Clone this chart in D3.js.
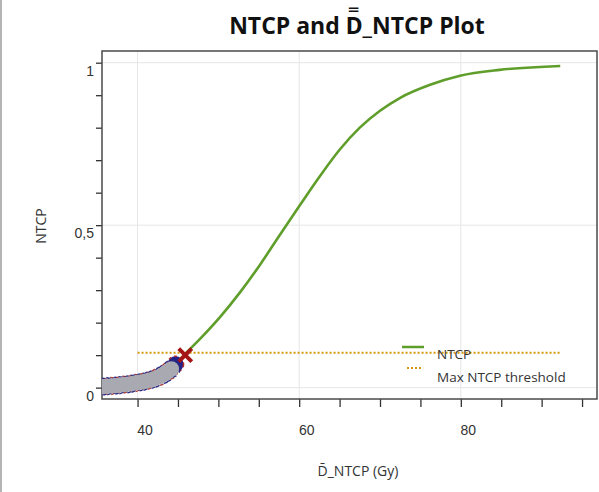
<!DOCTYPE html>
<html>
<head>
<meta charset="utf-8">
<script src="https://cdn.jsdelivr.net/npm/d3@7"></script>
<style>
  body { margin: 0; background: #fff; }
  svg { display: block; font-family: "Open Sans", "Noto Sans", sans-serif; }
</style>
</head>
<body>
<div id="chart"></div>
<script>
// NTCP curve
var ntcpDose  = [36, 38, 40, 42, 44, 45.6, 47.7, 50.2, 52.7, 55.2, 57.6, 60.1, 62.6, 65, 67.5, 70, 72.5, 76.2, 79.9, 84.8, 92.3];
var ntcpValue = [0.004, 0.008, 0.015, 0.027, 0.05, 0.096, 0.149, 0.217, 0.294, 0.38, 0.47, 0.562, 0.652, 0.732, 0.8, 0.852, 0.892, 0.932, 0.96, 0.978, 0.99];

// grey sample points along the low end
var sampleDose = [35.6, 36.1, 36.6, 37.1, 37.6, 38.1, 38.6, 39.1, 39.6, 40.1, 40.6, 41.1, 41.6, 42.1, 42.6, 43.1, 43.5, 43.9, 44.2];
var sampleNtcp = [0.003, 0.004, 0.005, 0.006, 0.007, 0.009, 0.01, 0.012, 0.014, 0.016, 0.018, 0.021, 0.024, 0.028, 0.033, 0.039, 0.045, 0.052, 0.058];

// highlighted points
var bluePoint = {dose: 44.7, ntcp: 0.072};
var redPoint = {dose: 45.9, ntcp: 0.1};

// threshold
var threshold = 0.107;
var thresholdRange = [40, 92.3];

var xTicks = [40, 60, 80];
var yTicks = [0, 0.5, 1];
var legendLabels = ["NTCP", "Max NTCP threshold"];

var W = 599, H = 492;
var margin = {top: 51, right: 2, bottom: 93, left: 102},
    width = W - margin.left - margin.right,
    height = H - margin.top - margin.bottom;

var svg = d3.select("#chart")
  .append("svg")
  .attr("width", W)
  .attr("height", H);

// grey edge of the window on the left
svg.append("rect")
  .attr("x", 0).attr("y", 0)
  .attr("width", 2).attr("height", H)
  .attr("fill", "#b4b4b4");

svg.append("clipPath").attr("id", "plot-clip")
  .append("rect")
  .attr("x", margin.left).attr("y", margin.top)
  .attr("width", width).attr("height", height);

var g = svg.append("g")
  .attr("transform", "translate(" + margin.left + "," + margin.top + ")");

var x = d3.scaleLinear().domain([35.6, 96.85]).range([0, width]);
var y = d3.scaleLinear().domain([-0.035, 1.036]).range([height, 0]);

// grid
g.selectAll(".vgrid").data(xTicks).enter().append("line")
  .attr("x1", d => x(d)).attr("x2", d => x(d))
  .attr("y1", 0).attr("y2", height)
  .attr("stroke", "#e6e6e6").attr("stroke-width", 1);
g.selectAll(".hgrid").data(yTicks).enter().append("line")
  .attr("x1", 0).attr("x2", width)
  .attr("y1", d => y(d)).attr("y2", d => y(d))
  .attr("stroke", "#e6e6e6").attr("stroke-width", 1);

// x axis
var xAxis = g.append("g")
  .attr("transform", "translate(0," + height + ")")
  .call(d3.axisBottom(x)
    .tickValues(d3.range(40, 96, 5))
    .tickSize(8)
    .tickFormat(d => xTicks.indexOf(d) >= 0 ? d : ""));
xAxis.select(".domain").remove();
xAxis.selectAll(".tick line").attr("stroke", "#333").attr("stroke-width", 1.3);
xAxis.selectAll(".tick text")
  .attr("font-size", 14).attr("fill", "#333")
  .attr("dx", 7).attr("y", 26);

// y axis
var yAxis = g.append("g")
  .call(d3.axisLeft(y)
    .tickValues(d3.range(0, 11).map(i => i / 10))
    .tickSize(6)
    .tickFormat(d => {
      var k = Math.round(d * 10);
      if (k === 0) return "0";
      if (k === 5) return "0,5";
      if (k === 10) return "1";
      return "";
    }));
yAxis.select(".domain").remove();
yAxis.selectAll(".tick line").attr("stroke", "#333").attr("stroke-width", 1.3);
yAxis.selectAll(".tick text")
  .attr("font-size", 14).attr("fill", "#333")
  .attr("x", -8).attr("dy", "0.9em");

var plot = svg.append("g").attr("clip-path", "url(#plot-clip)")
  .append("g")
  .attr("transform", "translate(" + margin.left + "," + margin.top + ")");

// threshold line
plot.append("line")
  .attr("x1", x(thresholdRange[0])).attr("x2", x(thresholdRange[1]))
  .attr("y1", y(threshold)).attr("y2", y(threshold))
  .attr("stroke", "#d4980a").attr("stroke-width", 2)
  .attr("stroke-dasharray", "2,2");

// NTCP curve
var curveData = ntcpDose.map((d, i) => ({dose: d, ntcp: ntcpValue[i]}));
plot.append("path")
  .datum(curveData)
  .attr("fill", "none")
  .attr("stroke", "#5f9e2a")
  .attr("stroke-width", 2.6)
  .attr("d", d3.line()
    .curve(d3.curveMonotoneX)
    .x(d => x(d.dose))
    .y(d => y(d.ntcp)));

// blue point (partly hidden by the grey band)
plot.append("circle")
  .attr("cx", x(bluePoint.dose)).attr("cy", y(bluePoint.ntcp))
  .attr("r", 8)
  .attr("fill", "#22228a")
  .attr("stroke", "#b02a2a").attr("stroke-width", 1.5)
  .attr("stroke-dasharray", "3,3");

// grey samples
var samples = sampleDose.map((d, i) => ({dose: d, ntcp: sampleNtcp[i]}));
plot.selectAll(".edge").data(samples).enter().append("circle")
  .attr("cx", d => x(d.dose)).attr("cy", d => y(d.ntcp))
  .attr("r", 8.5)
  .attr("fill", "none")
  .attr("stroke", (d, i) => i % 3 === 2 ? "#a83a3a" : "#2a2a80")
  .attr("stroke-width", 1.5)
  .attr("stroke-dasharray", "4,4");
plot.selectAll(".sample").data(samples).enter().append("circle")
  .attr("cx", d => x(d.dose)).attr("cy", d => y(d.ntcp))
  .attr("r", 7.6)
  .attr("fill", "#a9a9b2");

// red X
var s = 6.5;
plot.append("path")
  .attr("d", "M" + (x(redPoint.dose) - s) + "," + (y(redPoint.ntcp) - s) +
             "L" + (x(redPoint.dose) + s) + "," + (y(redPoint.ntcp) + s) +
             "M" + (x(redPoint.dose) - s) + "," + (y(redPoint.ntcp) + s) +
             "L" + (x(redPoint.dose) + s) + "," + (y(redPoint.ntcp) - s))
  .attr("stroke", "#a51515").attr("stroke-width", 4)
  .attr("fill", "none");

// frame
g.append("rect")
  .attr("width", width).attr("height", height)
  .attr("fill", "none")
  .attr("stroke", "#4a4a4a").attr("stroke-width", 1.5);

// legend
var legend = svg.append("g").attr("transform", "translate(402,347)");
legend.append("line")
  .attr("x1", 0).attr("x2", 22).attr("y1", 0).attr("y2", 0)
  .attr("stroke", "#5f9e2a").attr("stroke-width", 2.5);
legend.append("line")
  .attr("x1", 5).attr("x2", 21).attr("y1", 21).attr("y2", 21)
  .attr("stroke", "#d4980a").attr("stroke-width", 2)
  .attr("stroke-dasharray", "2,2");
legend.selectAll("text").data(legendLabels).enter().append("text")
  .attr("x", 35)
  .attr("y", (d, i) => 12 + i * 23)
  .attr("font-size", 13.5)
  .attr("fill", "#333")
  .text(d => d);

// titles
svg.append("text")
  .attr("x", 357).attr("y", 34)
  .attr("text-anchor", "middle")
  .attr("font-size", 23).attr("font-weight", "bold")
  .attr("fill", "#111")
  .text("NTCP and D\u033F_NTCP Plot");

svg.append("text")
  .attr("x", 358).attr("y", 476)
  .attr("text-anchor", "middle")
  .attr("font-size", 14).attr("fill", "#333")
  .text("D\u0304_NTCP (Gy)");

svg.append("text")
  .attr("transform", "translate(46,226) rotate(-90)")
  .attr("text-anchor", "middle")
  .attr("font-size", 14).attr("fill", "#333")
  .text("NTCP");
</script>
</body>
</html>
